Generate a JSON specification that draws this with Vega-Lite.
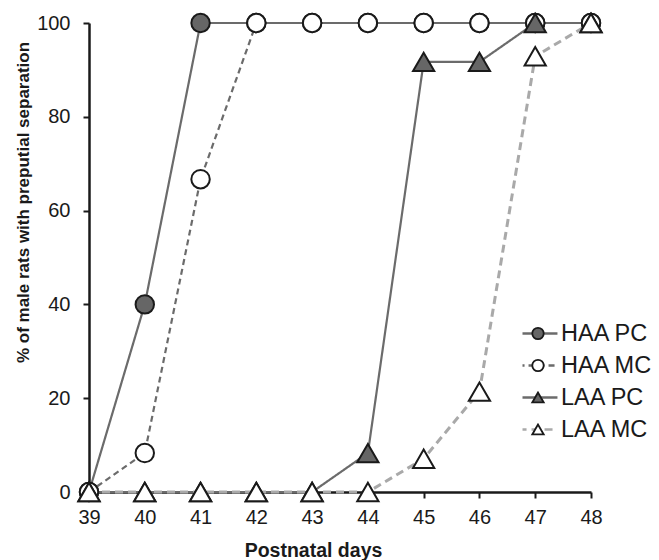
{
  "$schema": "https://vega.github.io/schema/vega-lite/v6.json",
  "width": 502,
  "height": 469,
  "autosize": {"type": "none"},
  "padding": {"left": 89, "top": 23, "right": 68, "bottom": 68},
  "background": "white",
  "config": {"view": {"stroke": null}, "font": "Liberation Sans"},
  "data": {"values": [
    {"series": "HAA PC", "day": 39, "pct": 0},
    {"series": "HAA PC", "day": 40, "pct": 40},
    {"series": "HAA PC", "day": 41, "pct": 100},
    {"series": "HAA PC", "day": 42, "pct": 100},
    {"series": "HAA PC", "day": 43, "pct": 100},
    {"series": "HAA PC", "day": 44, "pct": 100},
    {"series": "HAA PC", "day": 45, "pct": 100},
    {"series": "HAA PC", "day": 46, "pct": 100},
    {"series": "HAA PC", "day": 47, "pct": 100},
    {"series": "HAA PC", "day": 48, "pct": 100},
    {"series": "HAA MC", "day": 39, "pct": 0},
    {"series": "HAA MC", "day": 40, "pct": 8.3},
    {"series": "HAA MC", "day": 41, "pct": 66.7},
    {"series": "HAA MC", "day": 42, "pct": 100},
    {"series": "HAA MC", "day": 43, "pct": 100},
    {"series": "HAA MC", "day": 44, "pct": 100},
    {"series": "HAA MC", "day": 45, "pct": 100},
    {"series": "HAA MC", "day": 46, "pct": 100},
    {"series": "HAA MC", "day": 47, "pct": 100},
    {"series": "HAA MC", "day": 48, "pct": 100},
    {"series": "LAA PC", "day": 39, "pct": 0},
    {"series": "LAA PC", "day": 40, "pct": 0},
    {"series": "LAA PC", "day": 41, "pct": 0},
    {"series": "LAA PC", "day": 42, "pct": 0},
    {"series": "LAA PC", "day": 43, "pct": 0},
    {"series": "LAA PC", "day": 44, "pct": 8.3},
    {"series": "LAA PC", "day": 45, "pct": 91.7},
    {"series": "LAA PC", "day": 46, "pct": 91.7},
    {"series": "LAA PC", "day": 47, "pct": 100},
    {"series": "LAA PC", "day": 48, "pct": 100},
    {"series": "LAA MC", "day": 39, "pct": 0},
    {"series": "LAA MC", "day": 40, "pct": 0},
    {"series": "LAA MC", "day": 41, "pct": 0},
    {"series": "LAA MC", "day": 42, "pct": 0},
    {"series": "LAA MC", "day": 43, "pct": 0},
    {"series": "LAA MC", "day": 44, "pct": 0},
    {"series": "LAA MC", "day": 45, "pct": 7.1},
    {"series": "LAA MC", "day": 46, "pct": 21.4},
    {"series": "LAA MC", "day": 47, "pct": 92.9},
    {"series": "LAA MC", "day": 48, "pct": 100}
  ]},
  "encoding": {
    "x": {
      "field": "day", "type": "quantitative",
      "scale": {"domain": [39, 48], "nice": false, "zero": false},
      "axis": {
        "values": [39, 40, 41, 42, 43, 44, 45, 46, 47, 48], "format": "d",
        "grid": false, "labelFlush": false, "labelOverlap": false,
        "domainColor": "#1a1a1a", "domainWidth": 2.5, "tickColor": "#1a1a1a", "tickWidth": 2, "tickSize": 6,
        "labelFontSize": 20, "labelColor": "#1a1a1a", "labelPadding": 9,
        "title": "Postnatal days", "titleFontSize": 19.5, "titleFontWeight": "bold", "titleColor": "#1a1a1a",
        "titleX": 224, "titleY": 64, "titleBaseline": "alphabetic", "titleAlign": "center"
      }
    },
    "y": {
      "field": "pct", "type": "quantitative",
      "scale": {"domain": [0, 100], "nice": false},
      "axis": {
        "values": [0, 20, 40, 60, 80, 100],
        "grid": false, "labelFlush": false, "labelOverlap": false,
        "domainColor": "#1a1a1a", "domainWidth": 2.5, "tickColor": "#1a1a1a", "tickWidth": 2, "tickSize": 6,
        "labelFontSize": 20, "labelColor": "#1a1a1a", "labelPadding": 13,
        "title": "% of male rats with preputial separation", "titleFontSize": 17, "titleFontWeight": "bold", "titleColor": "#1a1a1a",
        "titleAngle": 270, "titleX": -61, "titleY": 179, "titleBaseline": "alphabetic", "titleAlign": "center"
      }
    }
  },
  "layer": [
    {
      "transform": [{"filter": "datum.series !== 'LAA MC'"}],
      "mark": {"type": "line", "strokeWidth": 2.2},
      "encoding": {
        "stroke": {"field": "series", "type": "nominal",
          "scale": {"range": ["#6b6b6b", "#6b6b6b", "#a9a9a9", "#6b6b6b"]},
          "legend": {"title": null, "orient": "none", "legendX": 433.5, "legendY": 294.75, "padding": 0,
            "values": ["HAA PC", "HAA MC", "LAA PC", "LAA MC"],
            "symbolType": "M-1.39,0H1.39", "symbolSize": 784, "symbolStrokeWidth": 2.4, "symbolOffset": 0,
            "clipHeight": 31.5, "rowPadding": 0,
            "labelFontSize": 23.5, "labelFont": "Liberation Sans", "labelColor": "#1a1a1a", "labelOffset": 7.5}},
        "strokeDash": {"field": "series", "type": "nominal",
          "scale": {"range": [[6, 4], [1, 0], [8, 5], [1, 0]]},
          "legend": {"title": null, "orient": "none", "legendX": 433.5, "legendY": 294.75, "padding": 0,
            "values": ["HAA PC", "HAA MC", "LAA PC", "LAA MC"],
            "symbolType": "M-1.39,0H1.39", "symbolSize": 784, "symbolStrokeWidth": 2.4, "symbolOffset": 0,
            "clipHeight": 31.5, "rowPadding": 0,
            "labelFontSize": 23.5, "labelFont": "Liberation Sans", "labelColor": "#1a1a1a", "labelOffset": 7.5}}
      }
    },
    {
      "transform": [{"filter": "datum.series === 'LAA MC'"}],
      "mark": {"type": "line", "strokeWidth": 3},
      "encoding": {
        "stroke": {"field": "series", "type": "nominal"},
        "strokeDash": {"field": "series", "type": "nominal"}
      }
    },
    {
      "mark": {"type": "point", "stroke": "#1a1a1a", "strokeWidth": 2, "opacity": 1, "strokeOpacity": 1, "fillOpacity": 1},
      "encoding": {
        "shape": {"field": "series", "type": "nominal",
          "scale": {"domain": ["HAA PC", "HAA MC", "LAA PC", "LAA MC"], "range": ["circle", "circle", "triangle-up", "triangle-up"]},
          "legend": {"title": null, "orient": "none", "legendX": 433.5, "legendY": 294.75, "padding": 0,
            "symbolStrokeWidth": 1.8, "symbolOffset": 0.5, "symbolSize": 130,
            "clipHeight": 31.5, "rowPadding": 0,
            "labelFontSize": 30, "labelExpr": "''",
            "encode": {"symbols": {
              "size": {"condition": {"test": "datum.value === 'HAA PC' || datum.value === 'HAA MC'", "value": 95}, "value": 175},
              "stroke": {"value": "#1a1a1a"}, "strokeWidth": {"value": 1.8}, "opacity": {"value": 1}, "fillOpacity": {"value": 1}}}}},
        "fill": {"field": "series", "type": "nominal",
          "scale": {"domain": ["HAA PC", "HAA MC", "LAA PC", "LAA MC"], "range": ["#666666", "#ffffff", "#666666", "#ffffff"]},
          "legend": {"title": null, "orient": "none", "legendX": 433.5, "legendY": 294.75, "padding": 0,
            "symbolStrokeWidth": 1.8, "symbolOffset": 0.5, "symbolSize": 130,
            "clipHeight": 31.5, "rowPadding": 0,
            "labelFontSize": 30, "labelExpr": "''",
            "encode": {"symbols": {
              "size": {"condition": {"test": "datum.value === 'HAA PC' || datum.value === 'HAA MC'", "value": 95}, "value": 175},
              "stroke": {"value": "#1a1a1a"}, "strokeWidth": {"value": 1.8}, "opacity": {"value": 1}, "fillOpacity": {"value": 1}}}}},
        "size": {"condition": {"test": "datum.series === 'HAA PC' || datum.series === 'HAA MC'", "value": 340}, "value": 450}
      }
    }
  ]
}
